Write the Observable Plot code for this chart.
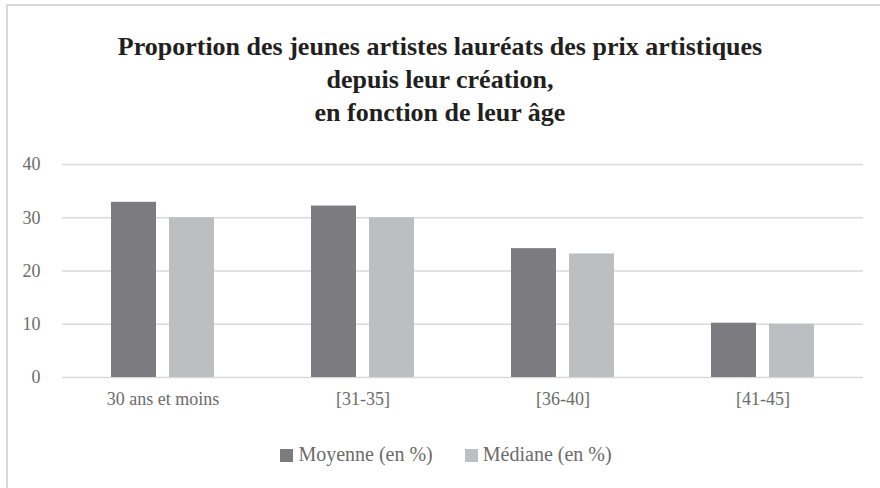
<!DOCTYPE html>
<html><head><meta charset="utf-8">
<script src="https://cdn.jsdelivr.net/npm/d3@7"></script>
<script src="https://cdn.jsdelivr.net/npm/@observablehq/plot@0.6"></script>
<style>
body{margin:0;background:#fff;font-family:"Liberation Serif",serif;}
#wrap{position:relative;width:880px;height:488px;overflow:hidden;background:#fff;}
#frame{position:absolute;left:6px;top:4px;width:900px;height:520px;border-left:2px solid #d9d9d9;border-top:2px solid #d9d9d9;pointer-events:none;}
#title{padding-top:30px;text-align:center;font-weight:bold;font-size:26px;line-height:33px;color:#231f20;}
#chart svg{display:block;}
#legend{padding-top:23px;padding-left:12px;text-align:center;font-size:20px;line-height:22px;color:#6b6b6b;}
#legend .item{display:inline-block;margin:0 16px;}
#legend .sw{display:inline-block;width:13px;height:13px;margin-right:5px;vertical-align:-1px;}
</style></head>
<body>
<div id="wrap">
<div id="frame"></div>
<div id="title">Proportion des jeunes artistes lauréats des prix artistiques<br>depuis leur création,<br>en fonction de leur âge</div>
<div id="chart"></div>
<div id="legend"></div>
</div>
<script>
const categories = ["30 ans et moins", "[31-35]", "[36-40]", "[41-45]"];
const series = ["Moyenne (en %)", "Médiane (en %)"];
const moyenne = [32.9, 32.2, 24.2, 10.2];
const mediane = [30, 30, 23.2, 10];
const yTicks = [0, 10, 20, 30, 40];
const colors = ["#7c7c80", "#bdbec1"];

const rows = [];
categories.forEach((c, i) => {
  rows.push({cat: c, serie: series[0], value: moyenne[i]});
  rows.push({cat: c, serie: series[1], value: mediane[i]});
});

const chart = Plot.plot({
  width: 880,
  height: 291,
  marginLeft: 62,
  marginRight: 17,
  marginTop: 35,
  marginBottom: 43,
  x: {domain: categories, paddingInner: 0.776, paddingOuter: 0.388, label: null, tickSize: 0, tickPadding: 15},
  y: {domain: [0, 40], ticks: yTicks, label: null, tickSize: 0, tickPadding: 22},
  style: {fontFamily: "Liberation Serif", fontSize: "18px", color: "#6b6b6b", background: "transparent"},
  marks: [
    Plot.ruleY(yTicks, {stroke: "#d9d9d9", strokeWidth: 1.5}),
    Plot.barY(rows.filter(d => d.serie === series[0]), {x: "cat", y: "value", fill: colors[0], dx: -29}),
    Plot.barY(rows.filter(d => d.serie === series[1]), {x: "cat", y: "value", fill: colors[1], dx: 29})
  ]
});
document.getElementById("chart").appendChild(chart);

const legend = document.getElementById("legend");
series.forEach((s, i) => {
  const item = document.createElement("span");
  item.className = "item";
  const sw = document.createElement("span");
  sw.className = "sw";
  sw.style.background = colors[i];
  item.appendChild(sw);
  item.appendChild(document.createTextNode(s));
  legend.appendChild(item);
});
</script>
</body></html>
